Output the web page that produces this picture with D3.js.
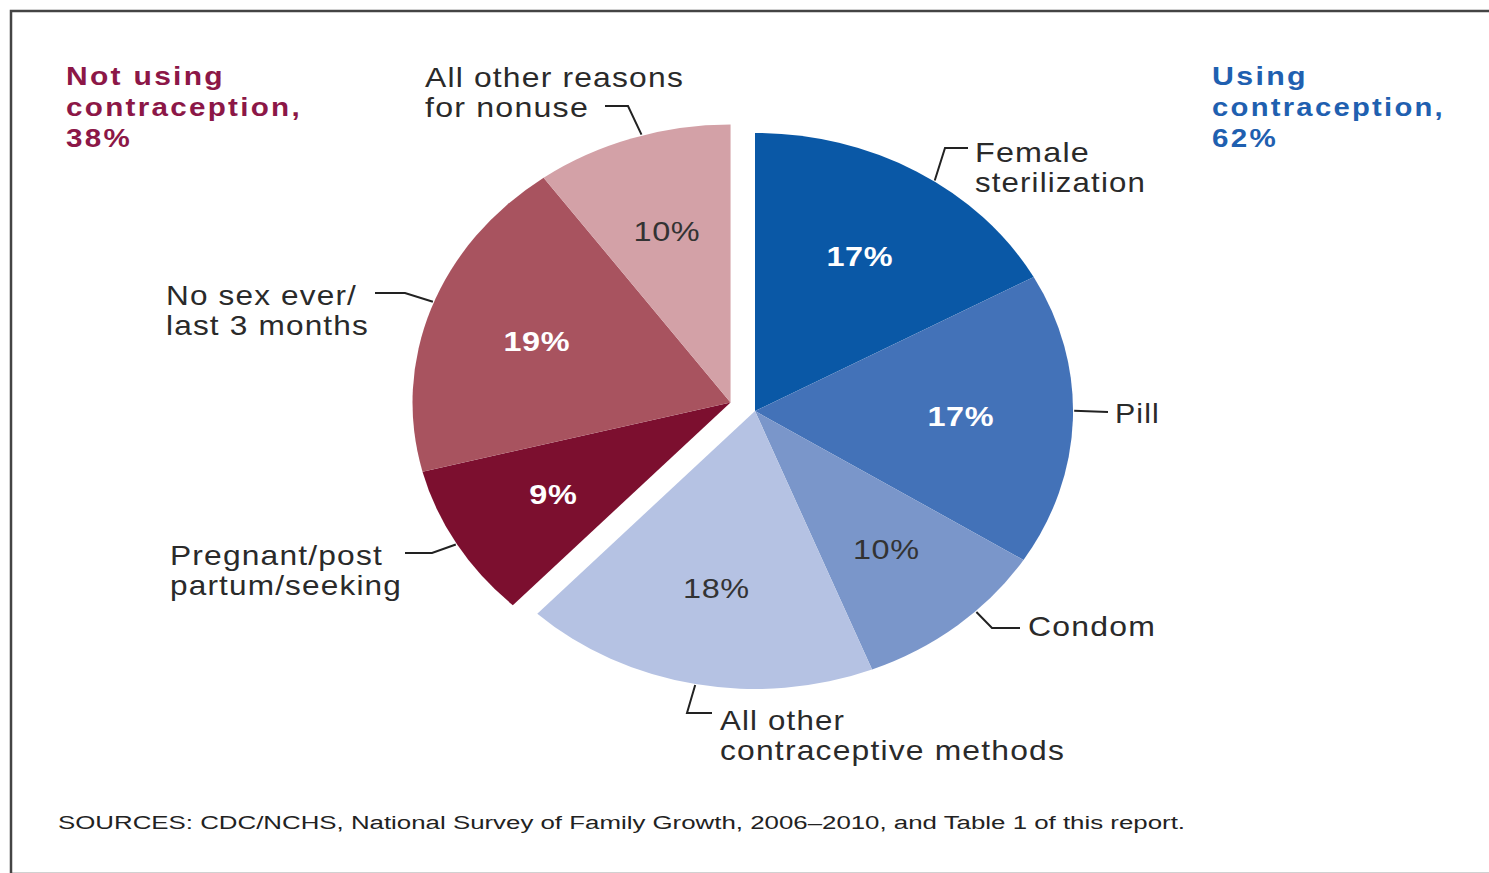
<!DOCTYPE html>
<html>
<head>
<meta charset="UTF-8">
<title>Contraceptive status</title>
<script src="https://d3js.org/d3.v7.min.js"></script>
<style>
  body { margin: 0; background: #fff; }
  text { font-family: "Liberation Sans", Arial, sans-serif; }
</style>
</head>
<body>
<div id="chart"></div>
<script>
// data
var categories = ["Female sterilization", "Pill", "Condom", "All other contraceptive methods",
                  "Pregnant/post partum/seeking", "No sex ever/last 3 months", "All other reasons for nonuse"];
var values = [17, 17, 10, 18, 9, 19, 10];
var groupOf = [0, 0, 0, 0, 1, 1, 1];
var groupNames = ["Using contraception", "Not using contraception"];
var groupTotals = [62, 38];
var labelLines = [["Female", "sterilization"], ["Pill"], ["Condom"], ["All other", "contraceptive methods"],
                  ["Pregnant/post", "partum/seeking"], ["No sex ever/", "last 3 months"], ["All other reasons", "for nonuse"]];
var sourceNote = "SOURCES:  CDC/NCHS, National Survey of Family Growth, 2006\u20132010, and Table 1 of this report.";

(function() {
  var W = 1489, H = 873;
  var sx = 1.144;          // the picture is stretched horizontally
  var radius = 278;
  var cx = 755, cy = 411;
  var explode = 23;

  var colors = ["#0a58a6", "#4372b8", "#7a96ca", "#b5c2e3", "#7c0f2f", "#a8535f", "#d3a1a7"];
  var pctColor = ["#fff", "#fff", "#333", "#333", "#fff", "#fff", "#333"];
  var groupColors = ["#1f60b0", "#8c1747"];

  var svg = d3.select("#chart").append("svg")
      .attr("width", W).attr("height", H);

  svg.append("rect")
      .attr("x", 11).attr("y", 11)
      .attr("width", 1500).attr("height", 863)
      .attr("fill", "none").attr("stroke", "#444").attr("stroke-width", 2.5);

  var data = categories.map(function(c, i) {
    return { name: c, value: values[i], group: groupOf[i], i: i };
  });

  var pie = d3.pie().sort(null).value(function(d) { return d.value; });
  var arcs = pie(data);
  var arc = d3.arc().innerRadius(0).outerRadius(radius);
  var labelArc = d3.arc().innerRadius(180).outerRadius(180);

  // offset for each group: the non-using group is pulled out along its mid angle
  function groupOffset(g) {
    if (g === 0) return [0, 0];
    var gs = arcs.filter(function(a) { return a.data.group === g; });
    var mid = (gs[0].startAngle + gs[gs.length - 1].endAngle) / 2;
    return [Math.sin(mid) * explode, -Math.cos(mid) * explode];
  }
  function center(g) {
    var o = groupOffset(g);
    return [cx + o[0] * sx, cy + o[1]];
  }

  var pieG = svg.append("g");
  pieG.selectAll("path")
    .data(arcs)
    .enter().append("path")
      .attr("transform", function(d) {
        var c = center(d.data.group);
        return "translate(" + c[0] + "," + c[1] + ") scale(" + sx + ",1)";
      })
      .attr("d", arc)
      .attr("fill", function(d) { return colors[d.data.i]; });

  // percentage labels
  pieG.selectAll("text.pct")
    .data(arcs)
    .enter().append("text")
      .attr("class", "pct")
      .attr("transform", function(d) {
        var c = center(d.data.group);
        var p = labelArc.centroid(d);
        return "translate(" + (c[0] + p[0] * sx) + "," + (c[1] + p[1]) + ") scale(" + (sx * 1.05) + ",1)";
      })
      .attr("text-anchor", "middle")
      .attr("dy", "0.36em")
      .attr("font-size", 27)
      .attr("font-weight", function(d) { return pctColor[d.data.i] === "#fff" ? "bold" : "normal"; })
      .attr("letter-spacing", 0.5)
      .attr("fill", function(d) { return pctColor[d.data.i]; })
      .text(function(d) { return d.data.value + "%"; });

  // helper: stretched text line with a target width
  function line(parent, str, x, y, size, width, opts) {
    opts = opts || {};
    var t = parent.append("text")
      .attr("transform", "translate(" + x + "," + y + ") scale(" + sx + ",1)")
      .attr("font-size", size)
      .attr("fill", opts.fill || "#2a2a2a")
      .attr("font-weight", opts.weight || "normal")
      .attr("letter-spacing", opts.spacing == null ? 1 : opts.spacing)
      .text(str);
    if (width) t.attr("textLength", width / sx).attr("lengthAdjust", "spacingAndGlyphs");
    return t;
  }

  // category labels and leaders (at = where on the slice's arc the leader starts)
  var labelLayout = [
    { x: 975, y: 162, w: [115, 171], at: 0.56, elbow: [945, 148], end: [968, 148] },
    { x: 1115, y: 423, w: [45], at: 0.47, elbow: null, end: [1108, 412] },
    { x: 1028, y: 636, w: [128], at: 0.38, elbow: [992, 628], end: [1020, 628] },
    { x: 720, y: 730, w: [125, 345], at: 0.5, elbow: [687, 713], end: [712, 713] },
    { x: 170, y: 565, w: [213, 232], at: 0.5, elbow: [432, 553], end: [405, 553] },
    { x: 166, y: 305, w: [191, 203], at: 0.52, elbow: [405, 293], end: [375, 293] },
    { x: 425, y: 87, w: [259, 164], at: 0.55, elbow: [628, 106], end: [605, 106] }
  ];

  var labG = svg.append("g");
  arcs.forEach(function(d, k) {
    var L = labelLayout[k];
    var c = center(d.data.group);
    var a = d.startAngle + (d.endAngle - d.startAngle) * L.at;
    var start = [c[0] + Math.sin(a) * (radius + 1) * sx, c[1] - Math.cos(a) * (radius + 1)];
    var pts = [start];
    if (L.elbow) pts.push(L.elbow);
    pts.push(L.end);
    labG.append("path")
      .attr("d", d3.line()(pts))
      .attr("fill", "none")
      .attr("stroke", "#222")
      .attr("stroke-width", 2);
    labelLines[k].forEach(function(s, j) {
      line(labG, s, L.x, L.y + j * 29.5, 27, L.w[j]);
    });
  });

  // group titles
  var titles = [
    { x: 1212, lines: ["Using", "contraception,", groupTotals[0] + "%"], w: [96, 233, 66] },
    { x: 66, lines: ["Not using", "contraception,", groupTotals[1] + "%"], w: [159, 236, 66] }
  ];
  titles.forEach(function(t, g) {
    t.lines.forEach(function(s, j) {
      line(svg, s, t.x, 85 + j * 31, 26, t.w[j], { fill: groupColors[g], weight: "bold", spacing: 2 });
    });
  });

  // source note
  line(svg, sourceNote, 58, 829, 19, 1127, { fill: "#222", spacing: 0 });
})();
</script>
</body>
</html>
